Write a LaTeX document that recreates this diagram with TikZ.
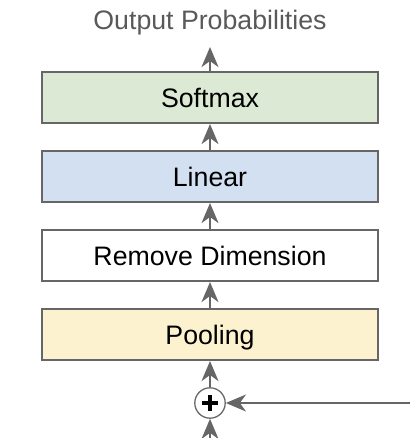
\documentclass[tikz,border=0pt]{standalone}
\usepackage{fontspec}
\setmainfont{Liberation Sans}
\usetikzlibrary{arrows.meta}
\definecolor{linegray}{HTML}{666666}
\definecolor{textgray}{HTML}{595959}
\definecolor{softgreen}{HTML}{DCE9D5}
\definecolor{linblue}{HTML}{D3E0F1}
\definecolor{poolyellow}{HTML}{FDF2CF}
\tikzset{
	layer/.style={draw=linegray, line width=1.4pt, minimum width=8.4cm, minimum height=1.275cm, inner sep=0pt, text height=13.6pt, text depth=0pt, font=\fontsize{19}{23}\selectfont},
	flow/.style={draw=linegray, line width=2.1pt},
	>={Stealth[length=0.5cm, width=0.42cm, inset=0.15cm]}
}
\begin{document}
\begin{tikzpicture}
\useasboundingbox (0,0) rectangle (10.25,10.95);
\node[layer, fill=poolyellow] (pool) at (5.25,2.5875) {Pooling};
\node[layer, fill=white] (rmdim) at (5.25,4.5625) {Remove Dimension};
\node[layer, fill=linblue] (lin) at (5.25,6.5375) {Linear};
\node[layer, fill=softgreen] (soft) at (5.25,8.5125) {Softmax};
\node[anchor=base, text=textgray, font=\fontsize{19}{23}\selectfont] (outp) at (5.25,10.2) {Output Probabilities};
\node[circle, draw=linegray, line width=0.9pt, minimum size=0.76cm, inner sep=0pt, fill=white] (add) at (5.25,0.875) {};
\draw[line width=2.7pt] ([xshift=-0.19cm]add.center) -- ([xshift=0.19cm]add.center);
\draw[line width=2.7pt] ([yshift=-0.19cm]add.center) -- ([yshift=0.19cm]add.center);
\coordinate (inlow) at (5.25,0);
\coordinate (inright) at (10.25,0.875);

\draw[flow,->] (inlow) -- (add.south);
\draw[flow,->] (inright) -- (add.east);
\draw[flow,->] (add.north) -- (pool.south);
\draw[flow,->] (pool.north) -- (rmdim.south);
\draw[flow,->] (rmdim.north) -- (lin.south);
\draw[flow,->] (lin.north) -- (soft.south);
\draw[flow,->] (soft.north) -- (5.25,9.775) coordinate (outtip);
\end{tikzpicture}
\end{document}
